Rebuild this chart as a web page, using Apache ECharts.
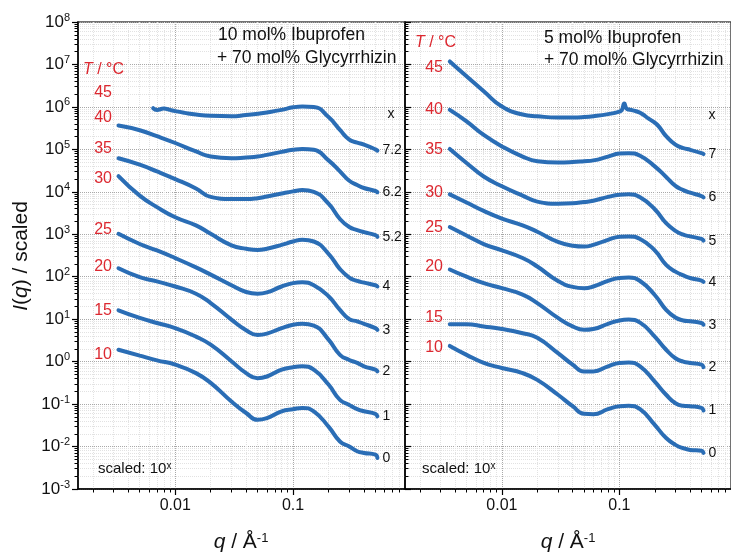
<!DOCTYPE html>
<html><head><meta charset="utf-8">
<script src="https://cdn.jsdelivr.net/npm/echarts@6/dist/echarts.min.js"></script>
<style>html,body{margin:0;padding:0;background:#fff}#c{width:731px;height:554px}</style>
</head><body><div id="c"></div>
<script>
// ---- data: q in 1/Å, intensities given as log10(I) of the scaled curves ----
const qLeft   = [0.0033,0.005,0.007,0.01,0.015,0.02,0.03,0.04,0.05,0.06,0.08,0.1,0.12,0.15,0.2,0.25,0.3,0.35,0.4,0.5,0.52];
const qLeft45 = [0.0065,0.007,0.008,0.009,0.01,0.012,0.015,0.02,0.03,0.04,0.05,0.06,0.08,0.1,0.12,0.15,0.2,0.25,0.3,0.35,0.4,0.5,0.52];
const qRight  = [0.0036,0.005,0.007,0.01,0.015,0.02,0.03,0.04,0.05,0.06,0.08,0.1,0.12,0.15,0.2,0.25,0.3,0.35,0.4,0.5,0.52];
const qRight45= [0.0036,0.005,0.007,0.01,0.015,0.02,0.03,0.04,0.05,0.06,0.08,0.1,0.105,0.11,0.116,0.13,0.15,0.18,0.21,0.25,0.3,0.35,0.4,0.5,0.52];

const left45 = [5.97,5.93,5.96,5.93,5.90,5.86,5.82,5.79,5.78,5.81,5.84,5.87,5.93,5.99,6.01,6.00,5.76,5.46,5.23,5.16,5.11,5.00,4.97];
const left40 = [5.56,5.45,5.31,5.15,4.95,4.83,4.79,4.81,4.83,4.87,4.94,4.99,5.01,4.99,4.74,4.48,4.26,4.16,4.09,4.02,3.99];
const left35 = [4.79,4.64,4.48,4.30,4.08,3.88,3.83,3.83,3.85,3.89,3.96,4.01,4.04,4.00,3.72,3.36,3.17,3.10,3.05,2.98,2.94];
const left30 = [4.37,3.91,3.64,3.40,3.21,3.01,2.74,2.66,2.63,2.66,2.75,2.83,2.87,2.83,2.54,2.18,1.98,1.90,1.86,1.80,1.77];
const left25 = [3.01,2.77,2.62,2.44,2.22,2.05,1.80,1.64,1.60,1.63,1.77,1.85,1.87,1.80,1.54,1.22,1.00,0.95,0.89,0.79,0.75];
const left20 = [2.20,1.99,1.89,1.77,1.60,1.38,0.99,0.74,0.63,0.66,0.79,0.87,0.89,0.85,0.52,0.16,0.04,-0.03,-0.11,-0.19,-0.23];
const left15 = [1.21,1.03,0.91,0.79,0.59,0.40,0.01,-0.27,-0.39,-0.35,-0.19,-0.13,-0.11,-0.19,-0.54,-0.90,-1.02,-1.12,-1.17,-1.23,-1.29];
const left10 = [0.28,0.14,0.03,-0.07,-0.27,-0.50,-0.94,-1.21,-1.37,-1.33,-1.17,-1.12,-1.09,-1.17,-1.53,-1.88,-2.00,-2.11,-2.15,-2.19,-2.27];

const right45 = [7.07,6.72,6.37,6.01,5.82,5.78,5.75,5.75,5.76,5.78,5.83,5.89,5.93,6.08,5.95,5.92,5.86,5.71,5.58,5.31,5.11,5.03,4.99,4.91,4.89];
const right40 = [5.93,5.66,5.34,5.07,4.83,4.72,4.69,4.70,4.72,4.74,4.83,4.90,4.91,4.85,4.60,4.35,4.14,4.04,3.98,3.90,3.87];
const right35 = [5.01,4.68,4.36,4.13,3.91,3.77,3.72,3.73,3.76,3.79,3.88,3.93,3.94,3.87,3.59,3.26,3.08,2.99,2.95,2.89,2.85];
const right30 = [3.94,3.75,3.55,3.37,3.21,3.06,2.82,2.73,2.71,2.75,2.87,2.94,2.95,2.89,2.62,2.28,2.12,2.03,1.97,1.91,1.88];
const right25 = [3.17,2.97,2.77,2.62,2.44,2.24,1.90,1.76,1.73,1.77,1.90,1.97,1.98,1.90,1.57,1.22,1.04,0.97,0.95,0.91,0.87];
const right20 = [2.17,2.00,1.85,1.73,1.58,1.38,1.03,0.83,0.75,0.77,0.89,0.97,0.99,0.92,0.59,0.28,0.08,0.00,-0.03,-0.07,-0.13];
const right15 = [0.88,0.88,0.83,0.77,0.67,0.56,0.20,-0.07,-0.23,-0.23,-0.11,-0.03,-0.02,-0.11,-0.47,-0.78,-0.98,-1.04,-1.05,-1.09,-1.15];
const right10 = [0.37,0.16,-0.03,-0.15,-0.27,-0.43,-0.78,-1.05,-1.23,-1.24,-1.12,-1.05,-1.04,-1.12,-1.49,-1.80,-1.96,-2.04,-2.08,-2.10,-2.15];

const temps = ['45','40','35','30','25','20','15','10'];
const leftScale  = ['7.2','6.2','5.2','4','3','2','1','0'];
const rightScale = ['7','6','5','4','3','2','1','0'];
const xTickQ = [0.01, 0.1];
const xTickLabels = ['0.01', '0.1'];
const yExpMin = -3, yExpMax = 8;

// ---- rendering ----
const FONT = "'Liberation Sans', Arial, sans-serif";
const BLUE = '#2a6db5';
const RED = '#dc2830';
const XMIN = -2.825, XMAX = -0.05;
const xMajor = xTickQ.map(Math.log10);
const minorX = [];
for (let n = -3; n <= -1; n++) for (let k = 2; k <= 9; k++) { const v = n + Math.log10(k); if (v > XMIN && v < XMAX) minorX.push(v); }
const minorY = [];
for (let n = yExpMin; n < yExpMax; n++) for (let k = 2; k <= 9; k++) minorY.push(n + Math.log10(k));

function xMajorAxis(gi) {
  return { type: 'value', gridIndex: gi, min: XMIN, max: XMAX, position: 'bottom',
    axisLine: { show: true, onZero: false, lineStyle: { color: '#000', width: 1.5 } },
    axisTick: { show: true, customValues: xMajor, length: 6, lineStyle: { color: '#000', width: 1.2 } },
    axisLabel: { show: true, customValues: xMajor, margin: 9, fontSize: 16, color: '#111', fontFamily: FONT,
      formatter: v => { let b = 0; xMajor.forEach((m, i) => { if (Math.abs(m - v) < Math.abs(xMajor[b] - v)) b = i; }); return xTickLabels[b]; } },
    splitLine: { show: true, lineStyle: { color: '#a8a8a8', type: 'dotted', width: 1 } } };
}
function xMinorAxis(gi) {
  return { type: 'value', gridIndex: gi, min: XMIN, max: XMAX, position: 'bottom',
    axisLine: { show: false, onZero: false },
    axisTick: { show: true, customValues: minorX, length: 3.5, lineStyle: { color: '#000', width: 1 } },
    axisLabel: { show: false },
    splitLine: { show: true, lineStyle: { color: '#e2e2e2', type: 'dotted', width: 1 } } };
}
function yMajorAxis(gi, showLabel, inside) {
  return { type: 'value', gridIndex: gi, min: yExpMin, max: yExpMax, interval: 1, position: 'left',
    axisLine: { show: true, onZero: false, lineStyle: { color: '#000', width: 1.5 } },
    axisTick: { show: true, inside: inside, length: 6, lineStyle: { color: '#000', width: 1.2 } },
    axisLabel: { show: showLabel, margin: 8, fontFamily: FONT, color: '#111',
      formatter: v => '{b|10}{s|' + v + '}',
      rich: { b: { fontSize: 17, fontFamily: FONT, color: '#111', lineHeight: 20 },
              s: { fontSize: 11, fontFamily: FONT, color: '#111', lineHeight: 11, verticalAlign: 'top' } } },
    splitLine: { show: true, lineStyle: { color: '#a8a8a8', type: 'dotted', width: 1 } } };
}
function yMinorAxis(gi, inside) {
  return { type: 'value', gridIndex: gi, min: yExpMin, max: yExpMax, position: 'left',
    axisLine: { show: false, onZero: false },
    axisTick: { show: true, inside: inside, customValues: minorY, length: 3.5, lineStyle: { color: '#000', width: 1 } },
    axisLabel: { show: false },
    splitLine: { show: true, lineStyle: { color: '#e2e2e2', type: 'dotted', width: 1 } } };
}
function curve(q, logI, label, xi, yi) {
  return { type: 'line', xAxisIndex: xi, yAxisIndex: yi, z: 5,
    data: q.map((v, i) => [Math.log10(v), logI[i]]),
    smooth: 0.5, showSymbol: false, symbol: 'none', silent: true,
    lineStyle: { color: BLUE, width: 4, cap: 'round' }, itemStyle: { color: BLUE },
    endLabel: { show: true, formatter: label, color: '#111', fontSize: 14, fontFamily: FONT, distance: 5 } };
}

const leftSets  = [[qLeft45, left45], [qLeft, left40], [qLeft, left35], [qLeft, left30], [qLeft, left25], [qLeft, left20], [qLeft, left15], [qLeft, left10]];
const rightSets = [[qRight45, right45], [qRight, right40], [qRight, right35], [qRight, right30], [qRight, right25], [qRight, right20], [qRight, right15], [qRight, right10]];
const series = [];
leftSets.forEach((s, i) => series.push(curve(s[0], s[1], leftScale[i], 0, 0)));
rightSets.forEach((s, i) => series.push(curve(s[0], s[1], rightScale[i], 2, 2)));

function txt(x, y, text, opt) {
  return Object.assign({ type: 'text', x: x, y: y, silent: true, z: 10,
    style: Object.assign({ text: text, fill: '#111', fontSize: 17, fontFamily: FONT, align: 'left', verticalAlign: 'middle' }, opt || {}) });
}
const richT = { i: { fontStyle: 'italic', fill: RED, fontSize: 16, fontFamily: FONT }, n: { fill: RED, fontSize: 16, fontFamily: FONT } };
const richQ = { i: { fontStyle: 'italic', fill: '#111', fontSize: 21, fontFamily: FONT }, n: { fill: '#111', fontSize: 21, fontFamily: FONT },
                s: { fill: '#111', fontSize: 13, fontFamily: FONT, verticalAlign: 'top', lineHeight: 13 } };
const richS = { n: { fill: '#111', fontSize: 15, fontFamily: FONT }, s: { fill: '#111', fontSize: 10, fontFamily: FONT, verticalAlign: 'top', lineHeight: 10 } };

const leftTempY  = [93, 118, 149, 179, 230, 267, 311, 355];
const rightTempY = [68, 110, 150, 193, 228, 267, 318, 348];
const graphics = [
  txt(218, 35, '10 mol% Ibuprofen', { fontSize: 17.5 }),
  txt(217, 58, '+ 70 mol% Glycyrrhizin', { fontSize: 17.5 }),
  txt(544, 38, '5 mol% Ibuprofen', { fontSize: 17.5 }),
  txt(544, 60, '+ 70 mol% Glycyrrhizin', { fontSize: 17.5 }),
  txt(83, 70, '{i|T}{n| / °C}', { rich: richT }),
  txt(415, 43, '{i|T}{n| / °C}', { rich: richT }),
  txt(391, 114, 'x', { fontSize: 14, align: 'center' }),
  txt(712, 115, 'x', { fontSize: 14, align: 'center' }),
  txt(98, 469, '{n|scaled: 10}{s|x}', { rich: richS }),
  txt(422, 469, '{n|scaled: 10}{s|x}', { rich: richS }),
  txt(241, 542, '{i|q}{n| / Å}{s|-1}', { rich: richQ, align: 'center' }),
  txt(568, 542, '{i|q}{n| / Å}{s|-1}', { rich: richQ, align: 'center' }),
  Object.assign(txt(21, 256, '{i|I}{n|(}{i|q}{n|) / scaled}', { rich: richQ, align: 'center' }), { rotation: Math.PI / 2 })
];
temps.forEach((t, i) => {
  graphics.push(txt(112, leftTempY[i], t, { fill: RED, fontSize: 16, align: 'right' }));
  graphics.push(txt(443, rightTempY[i], t, { fill: RED, fontSize: 16, align: 'right' }));
});

const chart = echarts.init(document.getElementById('c'), null, { renderer: 'canvas' });
chart.setOption({
  animation: false,
  backgroundColor: '#fff',
  grid: [
    { left: 78, top: 22, width: 327, height: 467, show: true, borderColor: '#444', borderWidth: 1.5, backgroundColor: 'transparent' },
    { left: 405, top: 22, width: 328, height: 467, show: true, borderColor: '#444', borderWidth: 1.5, backgroundColor: 'transparent' }
  ],
  xAxis: [xMajorAxis(0), xMinorAxis(0), xMajorAxis(1), xMinorAxis(1)],
  yAxis: [yMajorAxis(0, true, false), yMinorAxis(0, false), yMajorAxis(1, false, true), yMinorAxis(1, true)],
  series: series,
  graphic: graphics
});
</script></body></html>
